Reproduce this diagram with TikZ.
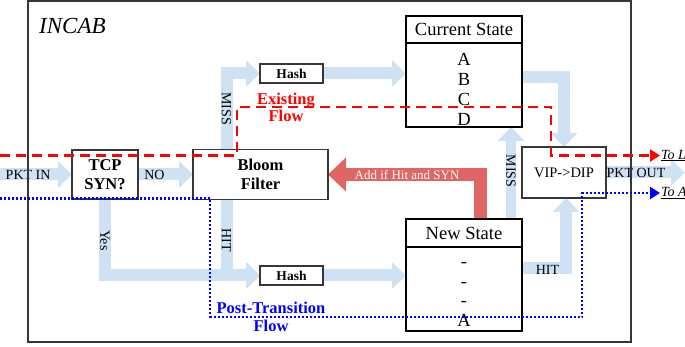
\documentclass[tikz,border=0pt]{standalone}
\usepackage{fontspec}
\setmainfont{Liberation Serif}
\usetikzlibrary{positioning}
\usetikzlibrary{arrows.meta}
\usetikzlibrary{backgrounds}

\definecolor{flowblue}{RGB}{207,226,243}
\definecolor{synred}{RGB}{224,102,102}
\definecolor{framegray}{RGB}{55,55,55}

\tikzset{
  frame/.style={draw=framegray, line width=2pt, inner sep=0pt},
  box/.style={draw=framegray, line width=1.8pt, fill=white, inner sep=0pt, outer sep=0pt,
    align=center, font=\fontsize{16.5}{18.5}\selectfont\bfseries},
  hashbox/.style={box, minimum width=63pt, minimum height=19pt, font=\fontsize{13.5}{14}\selectfont\bfseries},
  statebox/.style={draw=black, line width=2pt, fill=white, inner sep=0pt, outer sep=0pt,
    minimum width=116pt, font=\fontsize{18.5}{20}\selectfont},
  flow/.style={draw=flowblue, line width=12pt, line join=miter,
    -{Triangle[width=26pt,length=14pt]}},
  synflow/.style={draw=synred, line width=13pt, line join=miter,
    -{Triangle[width=33pt,length=18pt]}},
  flowtext/.style={text=black, inner sep=0pt, font=\fontsize{14}{14}\selectfont},
  existing/.style={draw=red, line width=2.5pt, dash pattern=on 10pt off 6pt,
    -{Triangle[width=12pt,length=10pt]}},
  posttrans/.style={draw=blue, line width=2.4pt, dash pattern=on 2pt off 2pt,
    -{Triangle[width=12pt,length=10pt]}},
  flowname/.style={align=center, inner sep=0pt, font=\fontsize{16.5}{17.5}\selectfont\bfseries},
  tolabel/.style={inner sep=1pt, font=\fontsize{14}{14}\selectfont\itshape}
}

\begin{document}
\begin{tikzpicture}[x=1pt,y=-1pt]
\useasboundingbox (0,0) rectangle (685,347);

% INCAB frame
\node[frame, minimum width=603pt, minimum height=341pt] (incab) at (329.5,171.5) {};
\node[anchor=west, inner sep=0pt, font=\fontsize{23}{23}\selectfont\itshape] (title) at (39,26) {INCAB};

% Boxes
\node[box, minimum width=66pt, minimum height=49pt] (tcp) at (105,174.5) {TCP\\SYN?};
\node[box,
    minimum width=135pt,
    minimum height=50pt,
    right=55pt of tcp
] (bloom) {Bloom\\Filter};

\node[hashbox] (hashA) at (291.5,73.5) {Hash};
\node[hashbox, below=183pt of hashA] (hashB) {Hash};

% State tables
\node[statebox, minimum height=27pt] (curhead) at (464,29.5) {Current State};
\node[statebox, minimum height=84pt, below=0pt of curhead] (curbody) {};
\node[align=center, inner sep=0pt, font=\fontsize{18.5}{20}\selectfont] (curtext)
    at ([yshift=-4.5pt]curbody.center) {A\\B\\C\\D};

\node[statebox, minimum height=28pt] (newhead) at (464,233) {New State};
\node[statebox, minimum height=84pt, below=0pt of newhead] (newbody) {};
\node[align=center, inner sep=0pt, font=\fontsize{18.5}{19.7}\selectfont] (newtext)
    at ([yshift=-5.5pt]newbody.center) {-\\-\\-\\A};

\node[box,
    minimum width=84pt,
    minimum height=51pt,
    font=\fontsize{14.5}{16}\selectfont
] (vip) at (564,172.5) {VIP->DIP};

\coordinate (pktin) at (0,174.5);
\coordinate (pktout) at (685,172.5);

% Packet paths
\begin{pgfonlayer}{background}
\draw[flow] (pktin) -- (tcp.west) node[flowtext, pos=0.39] (pktinlabel) {PKT IN};
\draw[flow] (tcp.east) -- (tcp.east -| bloom.west) node[flowtext, pos=0.3] (nolabel) {NO};
\draw[flow] (tcp.south) |- (hashB.west) node[flowtext, rotate=-90, pos=0.27] (yeslabel) {Yes};
\draw[flow] ([xshift=33.5pt]bloom.south west) |- (hashB.west)
    node[flowtext, rotate=-90, pos=0.27] (hitlabel) {HIT};
\draw[flow] ([xshift=33.5pt]bloom.north west) |- (hashA.west)
    node[flowtext, rotate=-90, pos=0.27] (misslabel) {MISS};
\draw[flow] (hashA.east) -- (curbody.west |- hashA.east);
\draw[flow] (hashB.east) -- (newbody.west |- hashB.east);
\draw[flow] ([yshift=-34pt]curbody.north east) -| (vip.north);
\draw[flow, line width=10pt] ([xshift=47pt]newhead.north) -- ([xshift=47pt]curbody.south)
    node[flowtext, rotate=-90, pos=0.5, xshift=-2pt] (missnew) {MISS};
\draw[flow] ([yshift=-21pt]newbody.north east) -| ([xshift=2pt]vip.south)
    node[flowtext, pos=0.29, yshift=-2pt] (hitnew) {HIT};
\draw[flow] (vip.east) -- (pktout) node[flowtext, pos=0.38] (pktoutlabel) {PKT OUT};

\draw[synflow] ([xshift=16pt]newhead.north) |- (bloom.east)
    node[pos=0.74, text=white, inner sep=0pt, font=\fontsize{13}{13}\selectfont] (addlabel) {Add if Hit and SYN};
\end{pgfonlayer}

% Existing flow
\coordinate (exin) at (0,155.5);
\coordinate (exA) at (237,107);
\coordinate (exB) at (551,107);
\coordinate (exout) at (660,155.5);
\draw[existing] (exin) -| (exA) -- (exB) |- (exout);
\node[flowname, text=red] (exlabel) at (286,107.5) {Existing\\Flow};
\node[tolabel, right=0pt of exout] (tolb) {\underline{To L}};

% Post-transition flow
\coordinate (ptin) at (0,198.5);
\coordinate (ptA) at (210,317);
\coordinate (ptB) at (582,317);
\coordinate (ptout) at (660,193);
\draw[posttrans] (ptin) -| (ptA) -- (ptB) |- (ptout);
\node[flowname, text=blue] (ptlabel) at (271,317) {Post-Transition\\Flow};
\node[tolabel, right=0pt of ptout] (toa) {\underline{To A}};
\end{tikzpicture}
\end{document}
